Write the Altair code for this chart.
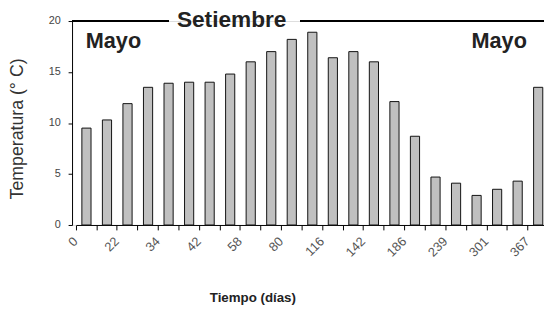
import json
import altair as alt
import pandas as pd

# Temperatura media (°C) por muestreo
temperatura = [9.5, 10.3, 11.9, 13.5, 13.9, 14.0, 14.0, 14.8, 16.0, 17.0, 18.2, 18.9,
               16.4, 17.0, 16.0, 12.1, 8.7, 4.7, 4.1, 2.9, 3.5, 4.3, 13.5]
# Tick labels shown (every other category)
dias_etiqueta = ["0", "22", "34", "42", "58", "80", "116", "142", "186", "239", "301", "367"]
anotaciones = ["Mayo", "Setiembre", "Mayo"]

n = len(temperatura)
etiquetas = []
for i in range(n):
    etiquetas.append(dias_etiqueta[i // 2] if i % 2 == 0 else "")

df = pd.DataFrame({"idx": list(range(n)), "temp": temperatura, "dia": etiquetas})

W = 479
H = 207
STEP = 20.84
X0 = 4.2

xscale = alt.Scale(range=[X0, X0 + n * STEP], paddingInner=0, paddingOuter=0)
yscale = alt.Scale(domain=[0, 20], nice=False)

label_expr = "%s[datum.value]" % json.dumps(etiquetas)

bars = alt.Chart(df).mark_bar(size=9.3, fill="#c0c0c0", stroke="#111111", strokeWidth=1).encode(
    x=alt.X("idx:O", scale=xscale, sort=None,
            axis=alt.Axis(title="Tiempo (días)", labelExpr=label_expr, labelAngle=-45,
                          labelAlign="right", labelBaseline="top", labelOverlap=False,
                          labelFontSize=13, labelColor="#555555", labelPadding=5,
                          labelOffset=-15,
                          bandPosition=0, tickSize=5, tickColor="#000000",
                          domainColor="#000000", titleFontSize=13.5, titleFontWeight="bold",
                          titleColor="#222222", titleX=183, titleY=74,
                          titleBaseline="middle")),
    y=alt.Y("temp:Q", scale=yscale,
            axis=alt.Axis(title="Temperatura (° C)", values=[0, 5, 10, 15, 20], grid=False,
                          tickSize=4, tickColor="#000000", domainColor="#000000",
                          labelFontSize=11, labelColor="#444444", labelPadding=8,
                          titleFontSize=18, titleFontWeight="normal", titleColor="#333333",
                          titleX=-55, titleY=109, titleBaseline="middle")),
)

top_left = alt.Chart(df).mark_rule(color="#000000", strokeWidth=1).encode(
    x=alt.value(0), x2=alt.value(98), y=alt.value(0))
top_right = alt.Chart(df).mark_rule(color="#000000", strokeWidth=1).encode(
    x=alt.value(232), x2=alt.value(W + 20), y=alt.value(0))

ann_df = pd.DataFrame({"txt": anotaciones, "px": [42, 162, 433.5], "py": [27.5, 6, 27.5],
                       "fs": [22, 23, 22]})
ann = alt.Chart(ann_df).mark_text(fontWeight="bold", color="#222222",
                                  font="Liberation Sans", baseline="alphabetic").encode(
    x=alt.X("px:Q", scale=None), y=alt.Y("py:Q", scale=None), text="txt:N",
    size=alt.Size("fs:Q", scale=None, legend=None))

chart = alt.layer(bars, top_left, top_right, ann).properties(
    width=W, height=H,
    autosize=alt.AutoSizeParams(type="none"),
    padding={"left": 65, "top": 11, "right": 0, "bottom": 80},
).configure_view(stroke=None).configure(font="Liberation Sans", background="white")

chart.save("out.html", embed_options={"renderer": "svg", "actions": False})
